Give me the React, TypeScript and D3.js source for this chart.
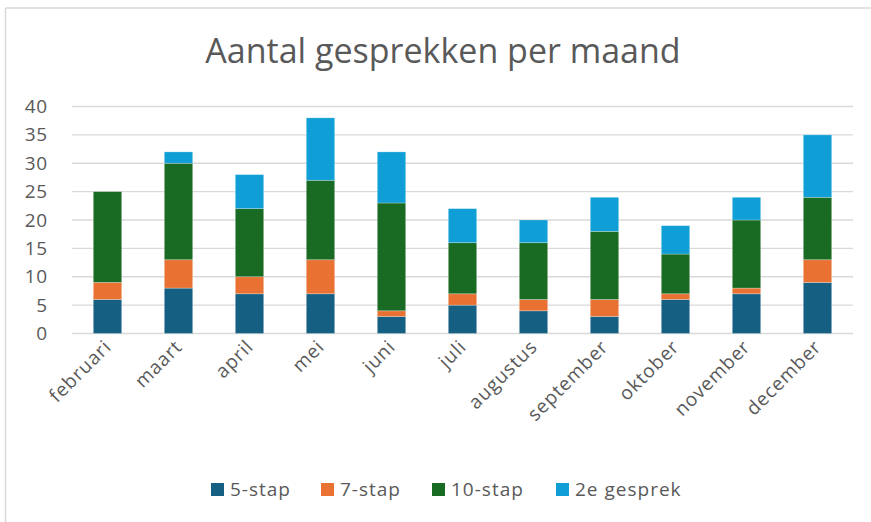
import React from "react";
import * as d3 from "d3";

const months = ["februari", "maart", "april", "mei", "juni", "juli", "augustus", "september", "oktober", "november", "december"];
const seriesNames = ["5-stap", "7-stap", "10-stap", "2e gesprek"];
const stap5 = [6, 8, 7, 7, 3, 5, 4, 3, 6, 7, 9];
const stap7 = [3, 5, 3, 6, 1, 2, 2, 3, 1, 1, 4];
const stap10 = [16, 17, 12, 14, 19, 9, 10, 12, 7, 12, 11];
const gesprek2 = [0, 2, 6, 11, 9, 6, 4, 6, 5, 4, 11];
const yTicks = [0, 5, 10, 15, 20, 25, 30, 35, 40];
const colors = ["#156082", "#E97132", "#196B24", "#0F9ED5"];

const W = 871;
const H = 522;
const FONT = "'Open Sans', sans-serif";
const TXT = "#595959";

export default function App() {
  const rows = months.map((m, i) => ({
    month: m,
    "5-stap": stap5[i],
    "7-stap": stap7[i],
    "10-stap": stap10[i],
    "2e gesprek": gesprek2[i],
  }));
  const stacked = d3.stack<any>().keys(seriesNames)(rows);

  const x = d3.scaleBand<string>().domain(months).range([72, 853]).paddingInner(0.6).paddingOuter(0.3);
  const y = d3.scaleLinear().domain([0, 40]).range([333.5, 106.5]);

  const legendX = [211, 321, 432, 556];

  return (
    <div style={{ position: "absolute", left: 0, top: 0 }}>
      <svg width={W} height={H} style={{ display: "block", background: "#fff" }}>
        <line x1={5.5} x2={W} y1={8} y2={8} stroke="#d9d9d9" strokeWidth={1.5} />
        <line x1={5.5} x2={5.5} y1={8} y2={H} stroke="#d9d9d9" strokeWidth={1.5} />
        <text x={443} y={63} textAnchor="middle" fontFamily={FONT} fontSize={34} fill={TXT}>
          Aantal gesprekken per maand
        </text>
        {yTicks.map((t) => (
          <g key={t}>
            <line x1={72} x2={853} y1={y(t)} y2={y(t)} stroke="#d9d9d9" strokeWidth={1.3} />
            <text x={48} y={y(t) + 6.5} textAnchor="end" fontFamily={FONT} fontSize={19} fill={TXT} letterSpacing={0.8}>
              {t}
            </text>
          </g>
        ))}
        {stacked.map((s, si) => (
          <g key={s.key} fill={colors[si]}>
            {s.map((d, i) =>
              d[1] - d[0] > 0 ? (
                <rect
                  key={i}
                  x={x(months[i])}
                  width={x.bandwidth()}
                  y={y(d[1])}
                  height={y(d[0]) - y(d[1])}
                  stroke="#ffffff"
                  strokeOpacity={0.35}
                  strokeWidth={0.75}
                />
              ) : null
            )}
          </g>
        ))}
        {months.map((m) => {
          const cx = (x(m) as number) + x.bandwidth() / 2 + 5;
          const cy = 348;
          return (
            <text
              key={m}
              transform={`translate(${cx},${cy}) rotate(-45)`}
              textAnchor="end"
              fontFamily={FONT}
              fontSize={19}
              fill={TXT}
              letterSpacing={0.9}
            >
              {m}
            </text>
          );
        })}
        {seriesNames.map((n, i) => (
          <g key={n}>
            <rect x={legendX[i]} y={483} width={13} height={13} fill={colors[i]} />
            <text x={legendX[i] + 19} y={496} fontFamily={FONT} fontSize={19} fill={TXT} letterSpacing={1}>
              {n}
            </text>
          </g>
        ))}
      </svg>
    </div>
  );
}
